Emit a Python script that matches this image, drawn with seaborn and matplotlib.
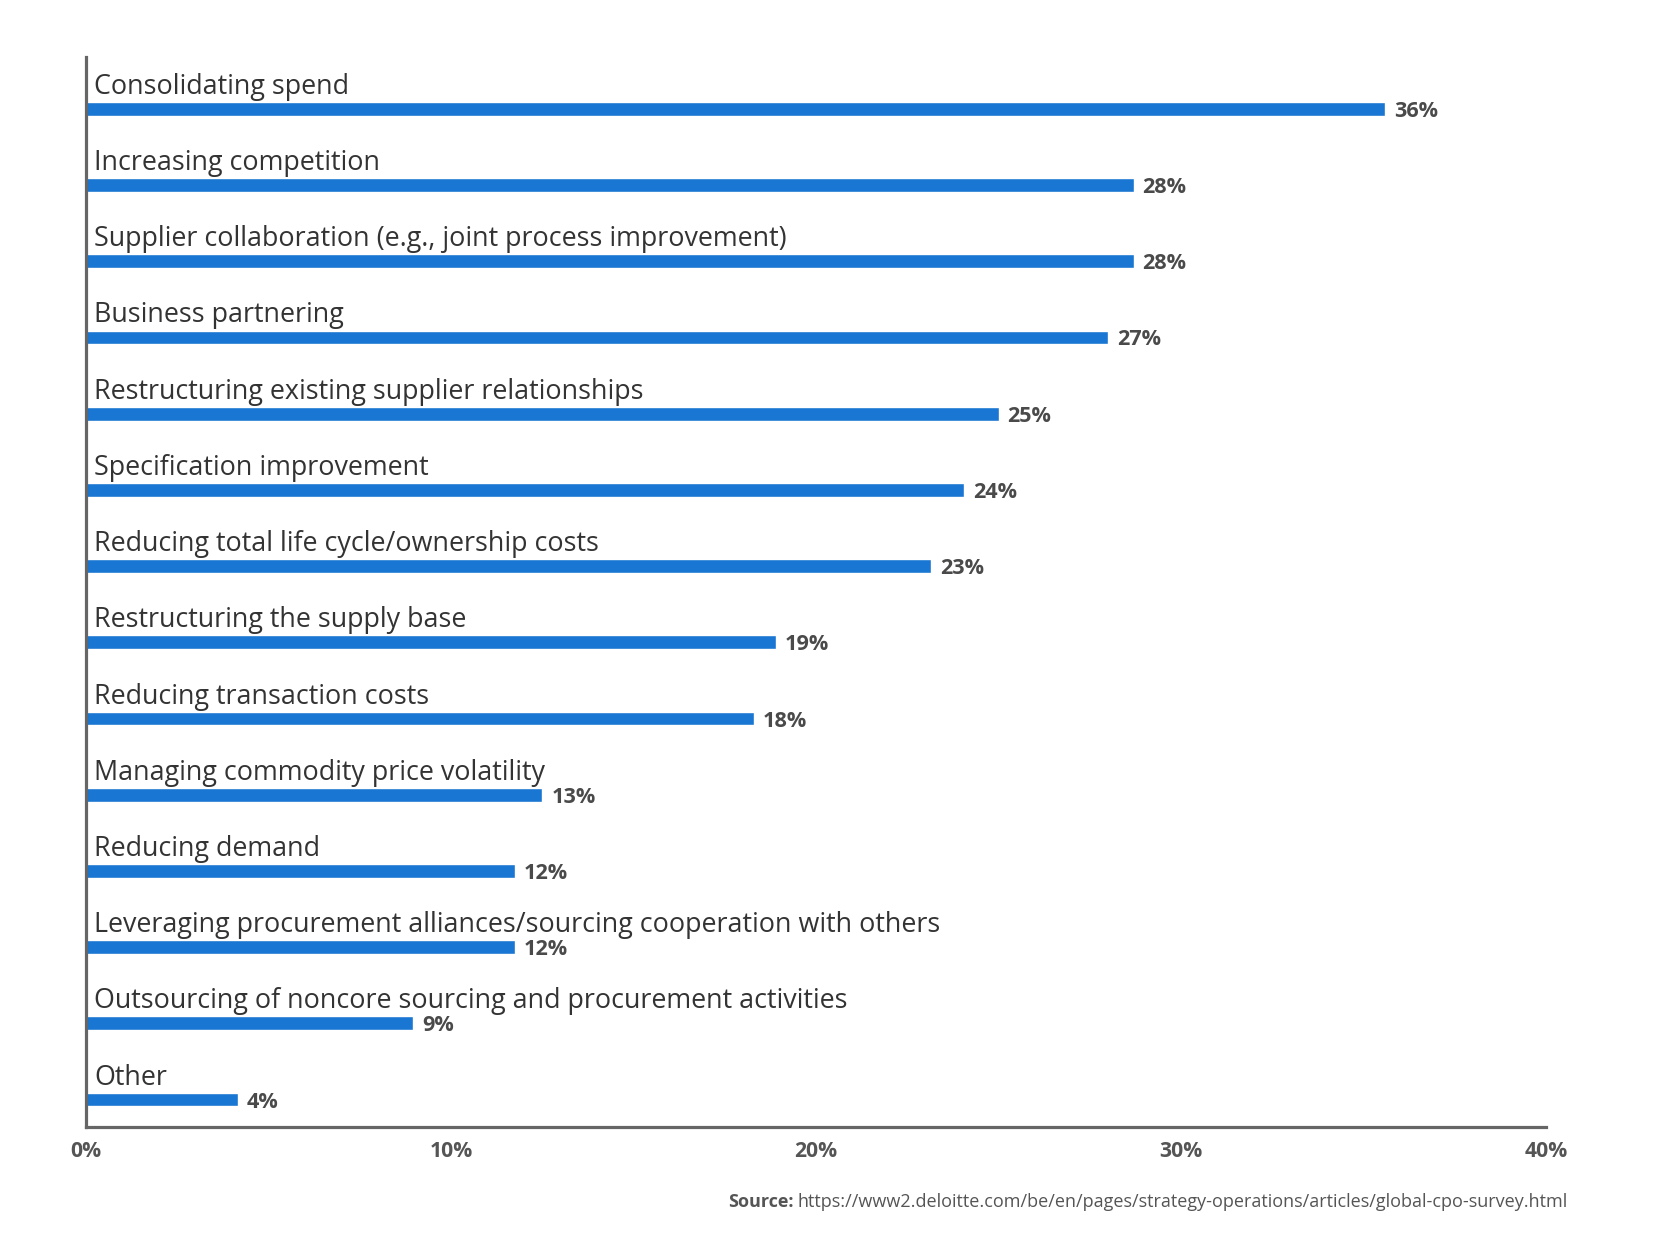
"""
Horizontal bar chart: procurement value-lever priorities (Deloitte CPO survey).
"""

import numpy as np
import pandas as pd
import matplotlib
matplotlib.use("Agg")
import matplotlib.pyplot as plt
import seaborn as sns

# ─── Data ────────────────────────────────────────────────────────────────────
CATEGORIES = [
    "Consolidating spend",
    "Increasing competition",
    "Supplier collaboration (e.g., joint process improvement)",
    "Business partnering",
    "Restructuring existing supplier relationships",
    "Specification improvement",
    "Reducing total life cycle/ownership costs",
    "Restructuring the supply base",
    "Reducing transaction costs",
    "Managing commodity price volatility",
    "Reducing demand",
    "Leveraging procurement alliances/sourcing cooperation with others",
    "Outsourcing of noncore sourcing and procurement activities",
    "Other",
]
# bar lengths as drawn in the picture (percent)
VALUES = [35.6, 28.7, 28.7, 28.0, 25.0, 24.05, 23.15, 18.9, 18.3, 12.5,
          11.75, 11.75, 8.97, 4.16]
# value labels as printed
VALUE_LABELS = ["36%", "28%", "28%", "27%", "25%", "24%", "23%", "19%", "18%",
                "13%", "12%", "12%", "9%", "4%"]
X_TICKS = [0, 10, 20, 30, 40]
X_TICK_LABELS = ["0%", "10%", "20%", "30%", "40%"]

SOURCE_LABEL = "Source:"
SOURCE_URL = "https://www2.deloitte.com/be/en/pages/strategy-operations/articles/global-cpo-survey.html"

# ─── Styling ─────────────────────────────────────────────────────────────────
BAR_COLOR = "#1976d2"
AXIS_COLOR = "#666666"
CAT_COLOR = "#333333"
VAL_COLOR = "#4a4a4a"

sns.set_style("white")
plt.rcParams["font.family"] = ["Open Sans", "DejaVu Sans"]

df = pd.DataFrame({"category": CATEGORIES, "value": VALUES})

fig = plt.figure(figsize=(16.61, 12.51), dpi=100)
ax = fig.add_axes([86 / 1661, 1 - 1127 / 1251, 1460 / 1661, 1070 / 1251])

sns.barplot(data=df, x="value", y="category", orient="h", color=BAR_COLOR,
            width=0.18, saturation=1, ax=ax)

ax.set_xlim(0, 40)
ax.set_ylim(13.36, -0.68)
ax.set_xlabel("")
ax.set_ylabel("")
ax.set_yticks([])
ax.set_xticks(X_TICKS)
ax.set_xticklabels(X_TICK_LABELS, fontsize=15.2, fontweight="bold", color="#555555")
ax.tick_params(axis="x", length=0, pad=10)

for side in ["top", "right"]:
    ax.spines[side].set_visible(False)
for side in ["left", "bottom"]:
    ax.spines[side].set_color(AXIS_COLOR)
    ax.spines[side].set_linewidth(2.3)

# category names above each bar, value labels after each bar
for i, (cat, val, lab) in enumerate(zip(CATEGORIES, VALUES, VALUE_LABELS)):
    ax.annotate(cat, xy=(0, i), xytext=(6, 10.8), textcoords="offset points",
                ha="left", va="baseline", fontsize=19.4, color=CAT_COLOR)
    ax.annotate(lab, xy=(val, i), xytext=(6.5, -1.8), textcoords="offset points",
                ha="left", va="center", fontsize=15.6, fontweight="bold",
                color=VAL_COLOR)

# source line, right aligned under the axis
src_y = 1 - 1202 / 1251
url = fig.text(1568 / 1661, src_y, SOURCE_URL, ha="right", va="center",
               fontsize=13, color="#555555")
fig.canvas.draw()
bb = url.get_window_extent()
fig.text((bb.x0 - 4) / fig.bbox.width, src_y, SOURCE_LABEL, ha="right",
         va="center", fontsize=13, fontweight="bold", color="#555555")

plt.savefig("out.png", dpi=100)
plt.close()
